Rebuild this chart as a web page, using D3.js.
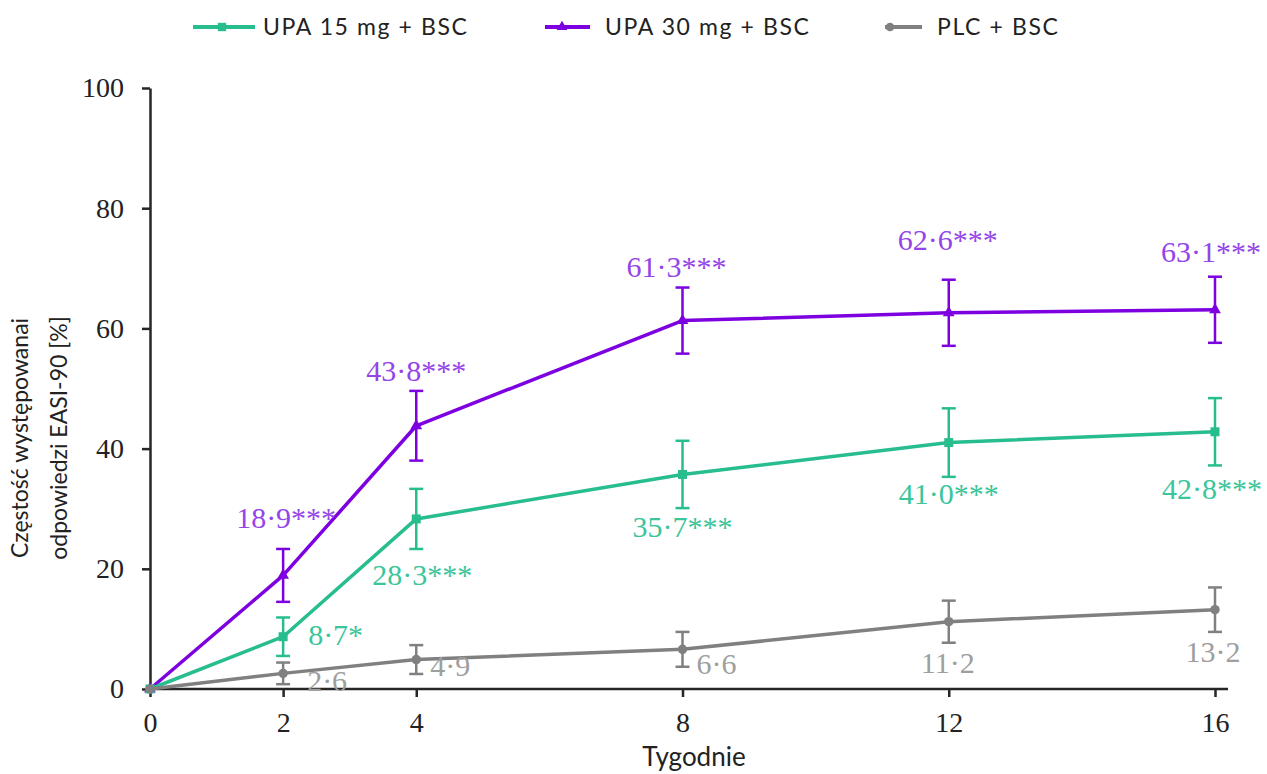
<!DOCTYPE html>
<html>
<head>
<meta charset="utf-8">
<script src="https://cdn.jsdelivr.net/npm/d3@7"></script>
<style>
  body { margin: 0; background: #fff; }
</style>
</head>
<body>
<div id="chart"></div>
<script>
// Data
const weeks = [0, 2, 4, 8, 12, 16];
const xTicks = [0, 2, 4, 8, 12, 16];
const yTicks = [0, 20, 40, 60, 80, 100];

const seriesNames = ['UPA 15 mg + BSC', 'UPA 30 mg + BSC', 'PLC + BSC'];

const upa15 = [0, 8.7, 28.3, 35.7, 41.0, 42.8];
const upa15Err = [0, 3.2, 5.0, 5.6, 5.7, 5.6];
const upa15Labels = ['', '8·7*', '28·3***', '35·7***', '41·0***', '42·8***'];

const upa30 = [0, 18.9, 43.8, 61.3, 62.6, 63.1];
const upa30Err = [0, 4.4, 5.8, 5.5, 5.5, 5.5];
const upa30Labels = ['', '18·9***', '43·8***', '61·3***', '62·6***', '63·1***'];

const plc = [0, 2.6, 4.9, 6.6, 11.2, 13.2];
const plcErr = [0, 1.8, 2.4, 2.9, 3.5, 3.7];
const plcLabels = ['', '2·6', '4·9', '6·6', '11·2', '13·2'];

// Label placement relative to each point: [dx, dy, anchor]
const upa15LabelPos = [null, [25, 8, 'start'], [6, 66, 'middle'], [0, 63, 'middle'], [0, 61, 'middle'], [-3, 67, 'middle']];
const upa30LabelPos = [null, [3, -47, 'middle'], [0, -45, 'middle'], [-6, -44, 'middle'], [-1, -63, 'middle'], [-4, -48, 'middle']];
const plcLabelPos = [null, [24, 18, 'start'], [14, 16, 'start'], [14, 25, 'start'], [-1, 51, 'middle'], [-2, 52, 'middle']];

const width = 1267, height = 774;
const margin = { left: 150, right: 52, top: 88, bottom: 85 };

const svg = d3.select('#chart')
  .append('svg')
  .attr('width', width)
  .attr('height', height);

const x = d3.scaleLinear()
  .domain([0, 16])
  .range([margin.left, width - margin.right]);

const y = d3.scaleLinear()
  .domain([0, 100])
  .range([height - margin.bottom, margin.top]);

const axisColor = '#262626';
const serif = '"Liberation Serif", "Times New Roman", serif';
const sans = 'Lato, "Open Sans", sans-serif';

// Axes
const yAxis = svg.append('g')
  .attr('transform', `translate(${margin.left},0)`)
  .call(d3.axisLeft(y).tickValues(yTicks).tickSize(8).tickSizeOuter(0).tickPadding(18));

const xAxis = svg.append('g')
  .attr('transform', `translate(0,${y(0)})`)
  .call(d3.axisBottom(x).tickValues(xTicks).tickSize(8).tickSizeOuter(0).tickPadding(15));

// x axis line runs a bit past the last week
xAxis.select('.domain').remove();
xAxis.append('line')
  .attr('x1', x(0)).attr('x2', x(16) + 13)
  .attr('stroke', axisColor).attr('stroke-width', 2.5);

[xAxis, yAxis].forEach(g => {
  g.selectAll('.domain, .tick line').attr('stroke', axisColor).attr('stroke-width', 2.5);
  g.selectAll('.tick text')
    .attr('fill', '#222')
    .style('font-family', serif)
    .style('font-size', '28px');
});

// Axis titles
const yTitle = svg.append('g')
  .attr('fill', '#222')
  .style('font-family', sans)
  .style('font-size', '23px');

yTitle.append('text')
  .attr('transform', 'translate(20,438) rotate(-90)')
  .attr('text-anchor', 'middle')
  .attr('dy', '0.35em')
  .text('Częstość występowanai');

yTitle.append('text')
  .attr('transform', 'translate(59,438) rotate(-90)')
  .attr('text-anchor', 'middle')
  .attr('dy', '0.35em')
  .text('odpowiedzi EASI-90 [%]');

svg.append('text')
  .attr('x', 694)
  .attr('y', 766)
  .attr('text-anchor', 'middle')
  .attr('fill', '#222')
  .style('font-family', sans)
  .style('font-size', '26px')
  .text('Tygodnie');

// Series
const series = [
  { name: seriesNames[1], values: upa30, err: upa30Err, labels: upa30Labels, pos: upa30LabelPos,
    color: '#7d00e0', labelColor: '#9444e8', symbol: d3.symbolTriangle, size: 60 },
  { name: seriesNames[0], values: upa15, err: upa15Err, labels: upa15Labels, pos: upa15LabelPos,
    color: '#27bd8f', labelColor: '#3ac59a', symbol: d3.symbolSquare, size: 81 },
  { name: seriesNames[2], values: plc, err: plcErr, labels: plcLabels, pos: plcLabelPos,
    color: '#808080', labelColor: '#9e9e9e', symbol: d3.symbolCircle, size: 70 }
];

const line = d3.line()
  .x(d => x(d.week))
  .y(d => y(d.value));

series.forEach(s => {
  const pts = weeks.map((w, i) => ({ week: w, value: s.values[i], err: s.err[i], label: s.labels[i], pos: s.pos[i] }));
  const g = svg.append('g');

  g.append('path')
    .datum(pts)
    .attr('d', line)
    .attr('fill', 'none')
    .attr('stroke', s.color)
    .attr('stroke-width', 3.5)
    .attr('stroke-linejoin', 'round');

  // error bars
  const eb = g.selectAll('.eb')
    .data(pts.filter(d => d.err > 0))
    .enter()
    .append('g')
    .attr('stroke', s.color)
    .attr('stroke-width', 2.5);

  eb.append('line')
    .attr('x1', d => x(d.week)).attr('x2', d => x(d.week))
    .attr('y1', d => y(d.value + d.err)).attr('y2', d => y(d.value - d.err));
  eb.append('line')
    .attr('x1', d => x(d.week) - 7).attr('x2', d => x(d.week) + 7)
    .attr('y1', d => y(d.value + d.err)).attr('y2', d => y(d.value + d.err));
  eb.append('line')
    .attr('x1', d => x(d.week) - 7).attr('x2', d => x(d.week) + 7)
    .attr('y1', d => y(d.value - d.err)).attr('y2', d => y(d.value - d.err));

  g.selectAll('.pt')
    .data(pts)
    .enter()
    .append('path')
    .attr('d', d3.symbol().type(s.symbol).size(s.size))
    .attr('transform', d => `translate(${x(d.week)},${y(d.value)})`)
    .attr('fill', s.color);

  g.selectAll('.lbl')
    .data(pts.filter(d => d.pos))
    .enter()
    .append('text')
    .attr('x', d => x(d.week) + d.pos[0])
    .attr('y', d => y(d.value) + d.pos[1])
    .attr('text-anchor', d => d.pos[2])
    .attr('fill', s.labelColor)
    .style('font-family', serif)
    .style('font-size', '30px')
    .text(d => d.label);
});

// Legend
const legendItems = [
  { name: seriesNames[0], color: '#27bd8f', symbol: d3.symbolSquare, size: 70, x1: 193, x2: 255, mx: 222, tx: 263 },
  { name: seriesNames[1], color: '#7d00e0', symbol: d3.symbolTriangle, size: 50, x1: 545, x2: 590, mx: 562, tx: 605 },
  { name: seriesNames[2], color: '#808080', symbol: d3.symbolCircle, size: 60, x1: 885, x2: 922, mx: 890, tx: 937 }
];

const legend = svg.append('g');
legendItems.forEach(d => {
  legend.append('line')
    .attr('x1', d.x1).attr('x2', d.x2)
    .attr('y1', 27).attr('y2', 27)
    .attr('stroke', d.color)
    .attr('stroke-width', 4);
  legend.append('path')
    .attr('d', d3.symbol().type(d.symbol).size(d.size))
    .attr('transform', `translate(${d.mx},27)`)
    .attr('fill', d.color);
  legend.append('text')
    .attr('x', d.tx)
    .attr('y', 35)
    .attr('fill', '#222')
    .style('font-family', sans)
    .style('font-size', '23px')
    .style('letter-spacing', '1.6px')
    .text(d.name);
});
</script>
</body>
</html>
